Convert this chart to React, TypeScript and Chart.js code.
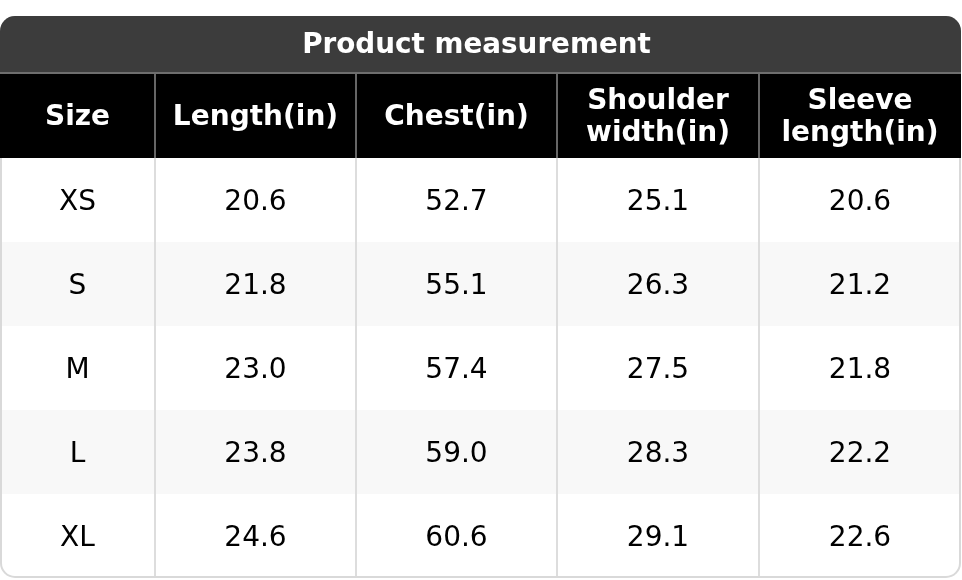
import React, { useEffect, useRef } from "react";
import { Chart, registerables } from "chart.js";
Chart.register(...registerables);

// ---- data ----
const tableTitle = "Product measurement";
const headers = ["Size", "Length(in)", "Chest(in)", "Shoulder\nwidth(in)", "Sleeve\nlength(in)"];
const sizes = ["XS", "S", "M", "L", "XL"];
const lengthIn = [20.6, 21.8, 23.0, 23.8, 24.6];
const chestIn = [52.7, 55.1, 57.4, 59.0, 60.6];
const shoulderIn = [25.1, 26.3, 27.5, 28.3, 29.1];
const sleeveIn = [20.6, 21.2, 21.8, 22.2, 22.6];

// ---- layout (scale units) ----
const colWidths = [155, 201, 201, 202, 202];
const titleH = 57;
const headerH = 85;
const rowH = 84;

const FONT = '"DejaVu Sans", "Noto Sans", sans-serif';

const colEdges: number[] = [0];
colWidths.forEach((w) => colEdges.push(colEdges[colEdges.length - 1] + w));
const totalW = colEdges[colEdges.length - 1];
const totalH = titleH + headerH + rowH * sizes.length;

const columns: string[][] = [
  sizes,
  lengthIn.map((v) => v.toFixed(1)),
  chestIn.map((v) => v.toFixed(1)),
  shoulderIn.map((v) => v.toFixed(1)),
  sleeveIn.map((v) => v.toFixed(1)),
];

function roundRectPath(ctx: CanvasRenderingContext2D, x: number, y: number, w: number, h: number, r: number) {
  ctx.beginPath();
  ctx.moveTo(x + r, y);
  ctx.lineTo(x + w - r, y);
  ctx.arcTo(x + w, y, x + w, y + r, r);
  ctx.lineTo(x + w, y + h - r);
  ctx.arcTo(x + w, y + h, x + w - r, y + h, r);
  ctx.lineTo(x + r, y + h);
  ctx.arcTo(x, y + h, x, y + h - r, r);
  ctx.lineTo(x, y + r);
  ctx.arcTo(x, y, x + r, y, r);
  ctx.closePath();
}

const tablePlugin = {
  id: "tablePlugin",
  afterDraw(chart: any) {
    const ctx: CanvasRenderingContext2D = chart.ctx;
    const xs = chart.scales.x;
    const ys = chart.scales.y;
    const X = (v: number) => xs.getPixelForValue(v);
    const Y = (v: number) => ys.getPixelForValue(v);
    const left = X(0), right = X(totalW), top = Y(0), bottom = Y(totalH);
    const r = 15;

    ctx.save();
    roundRectPath(ctx, left, top, right - left, bottom - top, r);
    ctx.clip();

    // body rows
    for (let i = 0; i < sizes.length; i++) {
      const y0 = Y(titleH + headerH + i * rowH);
      const y1 = Y(titleH + headerH + (i + 1) * rowH);
      ctx.fillStyle = i % 2 === 1 ? "#f8f8f8" : "#ffffff";
      ctx.fillRect(left, y0, right - left, y1 - y0);
    }
    // body vertical lines
    ctx.strokeStyle = "#dddddd";
    ctx.lineWidth = 2;
    for (let c = 1; c < colEdges.length - 1; c++) {
      const px = Math.round(X(colEdges[c]));
      ctx.beginPath();
      ctx.moveTo(px, Y(titleH + headerH));
      ctx.lineTo(px, bottom);
      ctx.stroke();
    }
    // outer border
    ctx.strokeStyle = "#d9d9d9";
    ctx.lineWidth = 4;
    roundRectPath(ctx, left, top, right - left, bottom - top, r);
    ctx.stroke();

    // title bar
    ctx.fillStyle = "#3c3c3c";
    ctx.fillRect(left, top, right - left, Y(titleH) - top);
    // header
    ctx.fillStyle = "#000000";
    ctx.fillRect(left, Y(titleH), right - left, Y(titleH + headerH) - Y(titleH));
    // header separators
    ctx.strokeStyle = "#666666";
    ctx.lineWidth = 2;
    for (let c = 1; c < colEdges.length - 1; c++) {
      const px = Math.round(X(colEdges[c]));
      ctx.beginPath();
      ctx.moveTo(px, Y(titleH));
      ctx.lineTo(px, Y(titleH + headerH));
      ctx.stroke();
    }
    ctx.strokeStyle = "#6e6e6e";
    ctx.beginPath();
    ctx.moveTo(left, Y(titleH));
    ctx.lineTo(right, Y(titleH));
    ctx.stroke();
    ctx.restore();

    // text
    ctx.save();
    ctx.textAlign = "center";
    ctx.textBaseline = "middle";
    ctx.fillStyle = "#ffffff";
    ctx.font = `bold 27.8px ${FONT}`;
    ctx.fillText(tableTitle, X(totalW / 2 - 4), Y(titleH / 2) + 1);

    ctx.font = `bold 28px ${FONT}`;
    headers.forEach((h, c) => {
      const cx = X((colEdges[c] + colEdges[c + 1]) / 2);
      const cy = Y(titleH + headerH / 2);
      const lines = h.split("\n");
      const lh = 32;
      lines.forEach((ln, k) => {
        ctx.fillText(ln, cx, cy + (k - (lines.length - 1) / 2) * lh + 2);
      });
    });

    ctx.fillStyle = "#000000";
    ctx.font = `28px ${FONT}`;
    columns.forEach((col, c) => {
      const cx = X((colEdges[c] + colEdges[c + 1]) / 2);
      col.forEach((txt, i) => {
        const cy = Y(titleH + headerH + (i + 0.5) * rowH);
        ctx.fillText(txt, cx, cy + 2.5);
      });
    });
    ctx.restore();
  },
};

export default function App() {
  const ref = useRef<HTMLCanvasElement | null>(null);
  useEffect(() => {
    if (!ref.current) return;
    const points = columns.flatMap((col, c) =>
      col.map((_, i) => ({
        x: (colEdges[c] + colEdges[c + 1]) / 2,
        y: titleH + headerH + (i + 0.5) * rowH,
      }))
    );
    const chart = new Chart(ref.current, {
      type: "scatter",
      data: {
        datasets: [{ data: points, pointRadius: 0, pointHoverRadius: 0 }],
      },
      options: {
        animation: false,
        responsive: true,
        maintainAspectRatio: false,
        events: [],
        layout: { padding: { top: 16, bottom: 2, left: 0, right: 1 } },
        plugins: { legend: { display: false }, tooltip: { enabled: false } },
        scales: {
          x: { type: "linear", min: 0, max: totalW, display: false },
          y: { type: "linear", min: 0, max: totalH, reverse: true, display: false },
        },
      },
      plugins: [tablePlugin],
    });
    return () => chart.destroy();
  }, []);
  return (
    <div style={{ position: "fixed", left: 0, top: 0, width: 962, height: 580, background: "#ffffff" }}>
      <canvas ref={ref} />
    </div>
  );
}
